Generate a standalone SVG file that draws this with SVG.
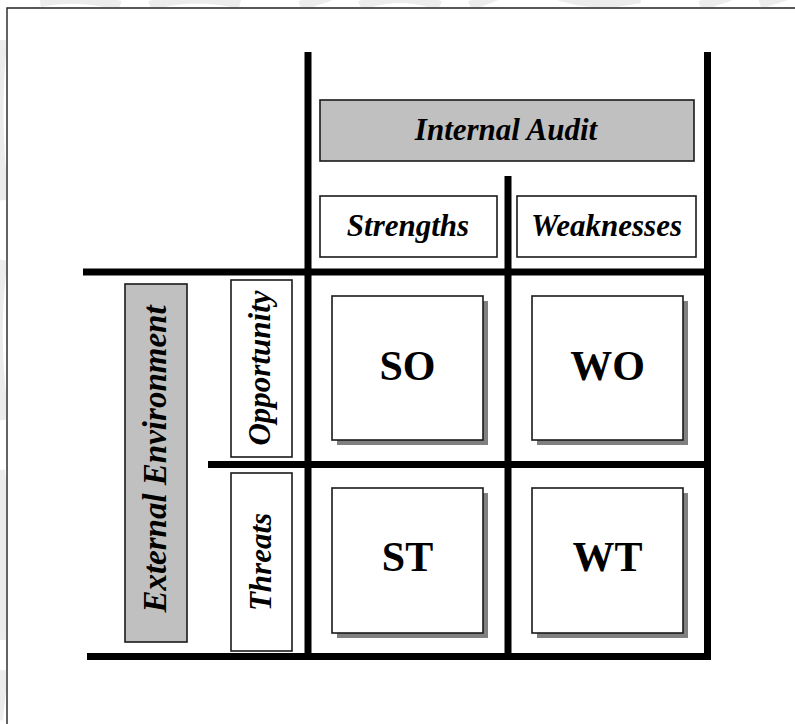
<svg xmlns="http://www.w3.org/2000/svg" width="795" height="724" viewBox="0 0 795 724">
  <style>
    .rule { stroke: #000; stroke-width: 7; stroke-linecap: butt; fill: none; }
    .box { stroke: #1a1a1a; stroke-width: 1.6; }
    .grey { fill: #c0c0c0; }
    .white { fill: #fff; }
    .shadow { fill: #808080; }
    .lbl { font-family: "Liberation Serif", "Times New Roman", serif; font-weight: bold; font-style: italic; fill: #000; }
    .cell { font-family: "Liberation Serif", "Times New Roman", serif; font-weight: bold; font-size: 42px; fill: #000; text-anchor: middle; }
    .wm { fill: none; stroke: #ececec; stroke-width: 10; }
  </style>

  <rect x="0" y="0" width="795" height="724" fill="#fff"/>

  <!-- faint background marks in the margin outside the frame -->
  <clipPath id="margin">
    <path d="M0 0 H795 V7 H6 V724 H0 Z"/>
  </clipPath>
  <g clip-path="url(#margin)">
    <path class="wm" d="M40 2 Q80 -6 120 6 M150 6 Q190 -8 240 4 M300 6 L330 -4 M360 6 Q400 -10 440 6 M470 6 L500 -6 M560 -4 Q600 8 640 -2 M700 6 L730 -4 M760 4 L790 -6"/>
    <path class="wm" d="M2 40 Q-6 120 4 200 M3 260 Q-8 330 4 420 M0 470 Q9 560 2 640 M3 670 L-2 720"/>
  </g>

  <!-- outer frame -->
  <path d="M7 730 V8 H800" fill="none" stroke="#222" stroke-width="1.4"/>

  <!-- grid rules -->
  <g id="connectors">
    <line class="rule" x1="308" y1="52" x2="308" y2="660"/>
    <line class="rule" x1="707.5" y1="52" x2="707.5" y2="660"/>
    <line class="rule" x1="508" y1="176" x2="508" y2="660"/>
    <line class="rule" x1="83" y1="272" x2="711" y2="272"/>
    <line class="rule" x1="208" y1="464.5" x2="711" y2="464.5"/>
    <line class="rule" x1="87" y1="656.5" x2="711" y2="656.5"/>
  </g>

  <!-- column headers -->
  <g id="internal-audit">
    <rect class="box grey" x="320" y="100" width="374" height="61"/>
    <text class="lbl" x="506" y="140" font-size="31" text-anchor="middle">Internal Audit</text>
  </g>
  <g id="strengths">
    <rect class="box white" x="320" y="196" width="177" height="61"/>
    <text class="lbl" x="408" y="236" font-size="31" text-anchor="middle">Strengths</text>
  </g>
  <g id="weaknesses">
    <rect class="box white" x="517" y="196" width="179" height="61"/>
    <text class="lbl" x="606.5" y="236" font-size="31" text-anchor="middle">Weaknesses</text>
  </g>

  <!-- row headers -->
  <g id="external-environment">
    <rect class="box grey" x="125" y="284" width="62" height="358"/>
    <text class="lbl" transform="translate(166 459) rotate(-90)" font-size="33" text-anchor="middle">External Environment</text>
  </g>
  <g id="opportunity">
    <rect class="box white" x="231" y="280" width="61" height="177"/>
    <text class="lbl" transform="translate(270 368) rotate(-90)" font-size="31" text-anchor="middle">Opportunity</text>
  </g>
  <g id="threats">
    <rect class="box white" x="231" y="473" width="61" height="178"/>
    <text class="lbl" transform="translate(271 562) rotate(-90)" font-size="31" text-anchor="middle">Threats</text>
  </g>

  <!-- strategy cells -->
  <g id="so">
    <rect class="shadow" x="337" y="301" width="151" height="144"/>
    <rect class="box white" x="332" y="296" width="151" height="144"/>
    <text class="cell" x="407.5" y="380">SO</text>
  </g>
  <g id="wo">
    <rect class="shadow" x="537" y="301" width="151" height="144"/>
    <rect class="box white" x="532" y="296" width="151" height="144"/>
    <text class="cell" x="607.5" y="380">WO</text>
  </g>
  <g id="st">
    <rect class="shadow" x="337" y="493" width="151" height="145"/>
    <rect class="box white" x="332" y="488" width="151" height="145"/>
    <text class="cell" x="407.5" y="571">ST</text>
  </g>
  <g id="wt">
    <rect class="shadow" x="537" y="493" width="151" height="145"/>
    <rect class="box white" x="532" y="488" width="151" height="145"/>
    <text class="cell" x="607.5" y="571">WT</text>
  </g>
</svg>
